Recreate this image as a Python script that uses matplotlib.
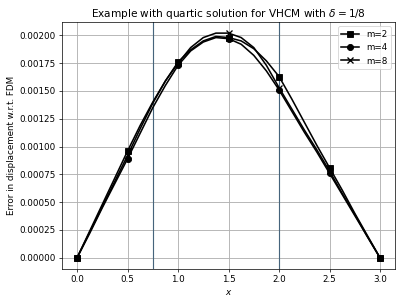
import matplotlib
matplotlib.use("Agg")
import matplotlib.pyplot as plt
import numpy as np

x = [0, .125, .25, .375, .5, .625, .75, .875, 1.0, 1.125, 1.25, 1.375, 1.5,
     1.625, 1.75, 1.875, 2.0, 2.125, 2.25, 2.375, 2.5, 2.625, 2.75, 2.875, 3.0]
err_m2 = [0, .00024, .00048, .00072, .00096, .00119, .00140, .00159, .00176, .00187,
          .00195, .00199, .00198, .00195, .00188, .00177, .00163, .00143, .00122,
          .00101, .00081, .00061, .00040, .00020, 0]
err_m4 = [0, .00022, .00045, .00067, .00089, .00112, .00135, .00155, .00173, .00186,
          .00194, .00198, .00197, .00192, .00182, .00168, .00151, .00132, .00113,
          .00095, .00076, .00057, .00038, .00019, 0]
err_m8 = [0, .00023, .00046, .00069, .00092, .00116, .00139, .00159, .00175, .00189,
          .00198, .00202, .00202, .00198, .00189, .00173, .00153, .00134, .00115,
          .00097, .00078, .00058, .00039, .00019, 0]
vlines = [0.75, 2.0]
labels = ["m=2", "m=4", "m=8"]

fig = plt.figure(figsize=(402/63, 304/63), dpi=63)
ax = fig.add_axes([0.154, 0.115, 0.829, 0.813])
for xv in vlines:
    ax.axvline(xv, color="#46647c", lw=1.3)
kw = dict(color="k", lw=1.8, ms=7, markevery=4)
ax.plot(x, err_m2, marker="s", label=labels[0], **kw)
ax.plot(x, err_m4, marker="o", label=labels[1], **kw)
ax.plot(x, err_m8, marker="x", mew=1.5, label=labels[2], **kw)
ax.grid(True, color="#b0b0b0", lw=1.0)
ax.set_xlabel("$x$")
ax.set_ylabel("Error in displacement w.r.t. FDM")
ax.set_title(r"Example with quartic solution for VHCM with $\delta = 1/8$")
ax.legend(loc="upper right")
fig.savefig("out.png", dpi=63)
